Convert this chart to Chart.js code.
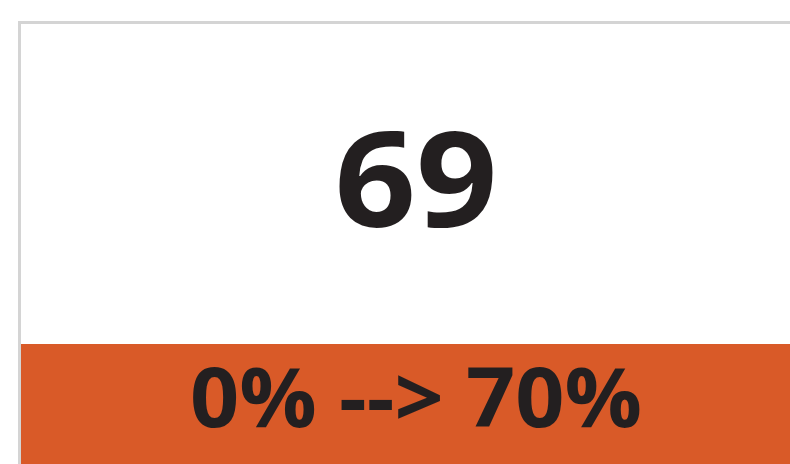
<!DOCTYPE html>
<html>
<head>
<meta charset="utf-8">
<script src="https://cdn.jsdelivr.net/npm/chart.js@4"></script>
<style>
  html, body { margin: 0; padding: 0; background: #fff; overflow: hidden; }
  #card { position: absolute; left: 18px; top: 21px; width: 790px; height: 443px;
          border-left: 3px solid #d4d4d4; border-top: 3px solid #d4d4d4; }
</style>
</head>
<body>
<div id="card"><canvas id="kpi" width="790" height="440"></canvas></div>
<script>
'use strict'

// KPI values
const kpiValue = [69];
const rangeLabels = ['0%', '70%'];

const FONT = '"Open Sans", "Liberation Sans", sans-serif';

// text drawn a bit wider than the font, the original face is rounder
function wideText(ctx, text, x, y, sx) {
  ctx.save();
  ctx.translate(x, y);
  ctx.scale(sx, 1);
  ctx.fillText(text, 0, 0);
  ctx.restore();
}

const kpiPlugin = {
  id: 'kpiCard',
  afterDraw(chart) {
    const ctx = chart.ctx;
    const w = chart.width;
    const h = chart.height;
    const cx = 395;
    ctx.save();
    ctx.fillStyle = '#d95a28';
    ctx.fillRect(0, 320, w, h - 320);
    ctx.fillStyle = '#231f20';
    ctx.textAlign = 'center';
    ctx.textBaseline = 'alphabetic';
    ctx.font = 'bold 132px ' + FONT;
    wideText(ctx, String(chart.data.datasets[0].data[0]), cx, 203, 1.08);
    ctx.font = 'bold 82px ' + FONT;
    wideText(ctx, rangeLabels[0] + ' --> ' + rangeLabels[1], cx, 403, 1.05);
    ctx.restore();
  }
};

new Chart(document.getElementById('kpi'), {
  type: 'bar',
  data: {
    labels: ['value'],
    datasets: [{ data: kpiValue, backgroundColor: 'rgba(0,0,0,0)' }]
  },
  options: {
    responsive: false,
    animation: false,
    plugins: { legend: { display: false }, tooltip: { enabled: false } },
    scales: { x: { display: false }, y: { display: false } }
  },
  plugins: [kpiPlugin]
});
</script>
</body>
</html>
